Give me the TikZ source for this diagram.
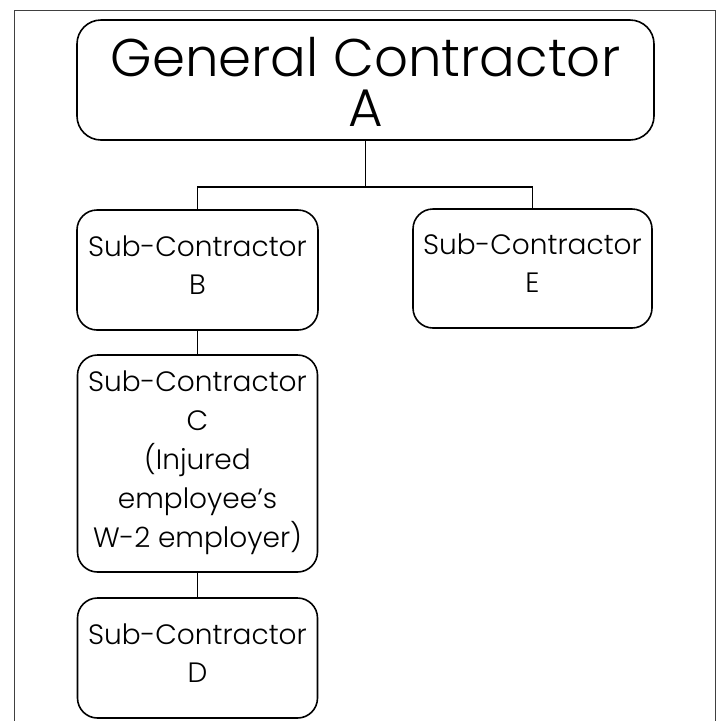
\documentclass[tikz,border=0pt]{standalone}
\usepackage{fontspec}
\setmainfont{Poppins}[UprightFont={* Light}]
\begin{document}
\begin{tikzpicture}[x=1pt,y=-1pt,
  box/.style={draw=black,line width=1.6pt,rounded corners=20pt,inner sep=0pt},
  txt/.style={inner sep=0pt,align=center,font=\fontsize{28}{38}\selectfont},
  link/.style={draw=black,line width=1.6pt}]
\useasboundingbox (0,0) rectangle (717,721);
\fill[white] (0,0) rectangle (717,721);
% outer frame (open at the bottom)
\draw[line width=1pt,black!75] (14,721) -- (14,10) -- (715,10) -- (715,721);
% boxes
\node[box,rounded corners=24pt,minimum width=577pt,minimum height=120pt] (A) at (365.5,80) {};
\node[box,minimum width=241pt,minimum height=120pt] (B) at (197.5,270) {};
\node[box,minimum width=239pt,minimum height=119pt] (E) at (532.5,268.5) {};
\node[box,minimum width=240pt,minimum height=217pt] (C) at (197.5,463.5) {};
\node[box,minimum width=240pt,minimum height=120pt] (D) at (197.5,658) {};
% texts
\node[txt,font=\fontsize{53}{50}\selectfont] (At) at ([yshift=-2pt]A.center) {General Contractor\\A};
\node[txt] (Bt) at ([yshift=5pt]B.center) {Sub-Contractor\\B};
\node[txt] (Et) at ([yshift=5pt]E.center) {Sub-Contractor\\E};
\node[txt,font=\fontsize{28}{39}\selectfont] (Ct) at ([yshift=1pt]C.center)
  {Sub-Contractor\\C\\(Injured\\employee’s\\W-2 employer)};
\node[txt] (Dt) at ([yshift=5pt]D.center) {Sub-Contractor\\D};
% connectors
\coordinate (J) at (365.5,187);
\draw[link] (A.south) -- (J);
\draw[link] (B.north) |- (J) -| (E.north);
\draw[link] (B.south) -- (C.north);
\draw[link] (C.south) -- (D.north);
\end{tikzpicture}
\end{document}
